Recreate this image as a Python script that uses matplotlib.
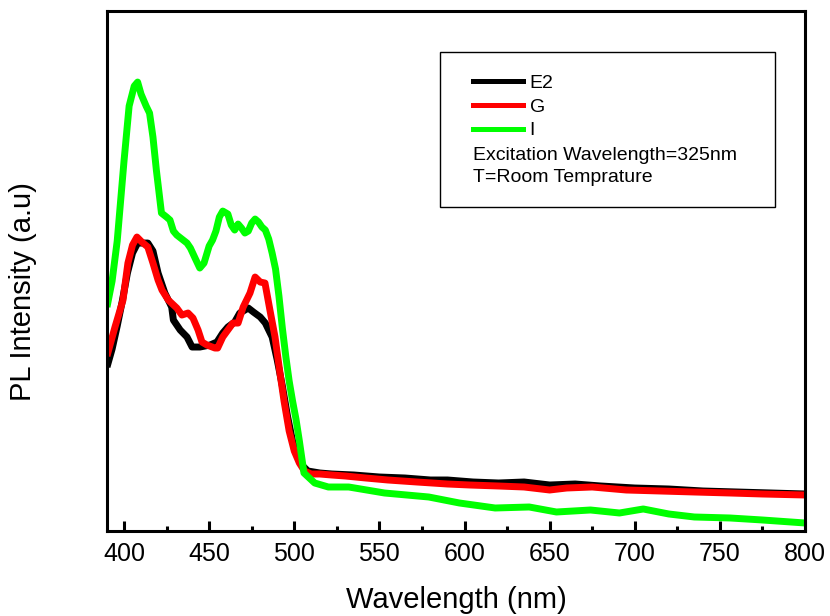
import matplotlib
matplotlib.use("Agg")
import matplotlib.pyplot as plt
from matplotlib.lines import Line2D
from matplotlib.patches import Rectangle
from matplotlib.ticker import MultipleLocator

plt.rcParams["font.family"] = ["Liberation Sans", "DejaVu Sans"]

# PL spectra (arbitrary units) for the three samples
wl_e2 = [390, 393, 396, 399, 402, 405, 408, 411, 414, 417, 420, 424, 428, 429, 433,
         437, 440, 444.6, 450.5, 454.6, 458, 461, 465, 468, 473, 476, 480, 483, 487,
         490, 493, 496, 499, 502, 505, 508, 515, 522, 535, 550, 565, 580, 590, 605,
         620, 635, 650, 665, 680, 700, 720, 740, 760, 780, 800]
pl_e2 = [164, 182, 205, 230, 258, 278, 288, 288, 288, 280, 258, 238, 224, 211, 201,
         194, 184, 184, 186, 189, 198, 204, 209, 218, 223, 219, 214, 208, 194,
         171, 145, 115, 90, 75, 65, 60, 58, 57, 56, 54, 53, 51, 51, 49,
         48, 49, 46, 47, 45, 43, 42, 40, 39, 38, 37]

wl_g = [390, 394.7, 399.4, 402.3, 405, 407.6, 410.5, 414, 417, 420, 422.3, 426, 431,
        434, 437.6, 440.5, 443.5, 445.8, 448.7, 453.4, 455, 458, 461, 464, 467, 470,
        474, 477, 480, 482.8, 485.7, 488.7, 491.6, 494, 497, 500, 503, 506, 510, 515,
        522, 530, 542, 555, 572, 590, 603, 620, 635, 650, 660, 675, 695, 715, 735,
        756, 775, 800]
pl_g = [175, 204, 231, 268, 286, 294, 289, 284, 268, 251, 241, 231, 223,
        216, 218, 213, 201, 189, 186, 183, 183, 194, 201, 208, 208, 224,
        238, 254, 249, 248, 221, 194, 158, 130, 100, 80, 68, 60, 57, 57,
        56, 55, 53, 51, 49, 47, 46, 45, 44, 41, 43, 44, 41, 40, 39,
        38, 37, 36]

wl_i = [390, 393, 396, 400, 403, 406, 408, 410, 413, 415, 417, 419, 422, 425, 427,
        429, 431, 434, 437, 439, 442, 444.5, 447, 450, 452, 454, 456, 458, 461, 463,
        465, 467, 469, 471, 473, 475, 477, 479, 481, 483, 485, 487, 489, 491, 493,
        495, 497, 499, 501, 503, 505.7, 512, 520, 532, 553, 579, 597, 618, 638, 654,
        674, 691, 705, 720, 735, 756, 775, 800]
pl_i = [224, 250, 290, 370, 425, 445, 449, 437, 425, 418, 394, 361, 318, 314, 311,
        300, 296, 292, 288, 283, 272, 263, 268, 285, 291, 300, 314, 320, 317, 306,
        301, 307, 303, 298, 300, 308, 312, 309, 304, 301, 292, 278, 262, 235, 203,
        175, 150, 130, 112, 90, 58, 48, 44, 44, 38, 34, 28, 23, 24, 19,
        21, 18, 22, 17, 14, 13, 11, 8]

series = [("E2", wl_e2, pl_e2, "#000000"),
          ("G", wl_g, pl_g, "#ff0000"),
          ("I", wl_i, pl_i, "#00ff00")]

x_ticks = [400, 450, 500, 550, 600, 650, 700, 750, 800]

fig = plt.figure(figsize=(8.3, 6.16), dpi=100)
ax = fig.add_axes([0.1289, 0.138, 0.841, 0.844])

for name, wl, pl, color in series:
    ax.plot(wl, pl, color=color, lw=5, solid_joinstyle="round", solid_capstyle="butt",
            label=name)

ax.set_xlim(390, 800)
ax.set_ylim(0, 520)
ax.set_xticks(x_ticks)
ax.xaxis.set_minor_locator(MultipleLocator(25))
ax.set_yticks([])
ax.tick_params(axis="x", which="major", direction="in", length=7, width=2.2,
               labelsize=18, pad=8)
ax.tick_params(axis="x", which="minor", direction="in", length=3.5, width=2.2)
for sp in ax.spines.values():
    sp.set_linewidth(2.2)

ax.set_xlabel("Wavelength (nm)", fontsize=21, labelpad=14)
ax.set_ylabel("PL Intensity (a.u)", fontsize=21)
ax.yaxis.set_label_coords(-0.10, 0.46)

# legend box with sample lines and measurement notes
ax.add_patch(Rectangle((0.477, 0.623), 0.48, 0.298, transform=ax.transAxes,
                       fill=False, edgecolor="black", lw=1.0, zorder=5))
handles = [Line2D([], [], color=c, lw=3.6) for _, _, _, c in series]
ax.legend(handles, [s[0] for s in series], loc="upper left",
          bbox_to_anchor=(0.524, 0.878), frameon=False, fontsize=14,
          handlelength=2.57, handletextpad=0.35, labelspacing=0.31,
          borderpad=0, borderaxespad=0)
ax.text(0.524, 0.723, "Excitation Wavelength=325nm", transform=ax.transAxes,
        fontsize=14, va="center", ha="left")
ax.text(0.524, 0.679, "T=Room Temprature", transform=ax.transAxes,
        fontsize=14, va="center", ha="left")

fig.savefig("out.png", dpi=100)
